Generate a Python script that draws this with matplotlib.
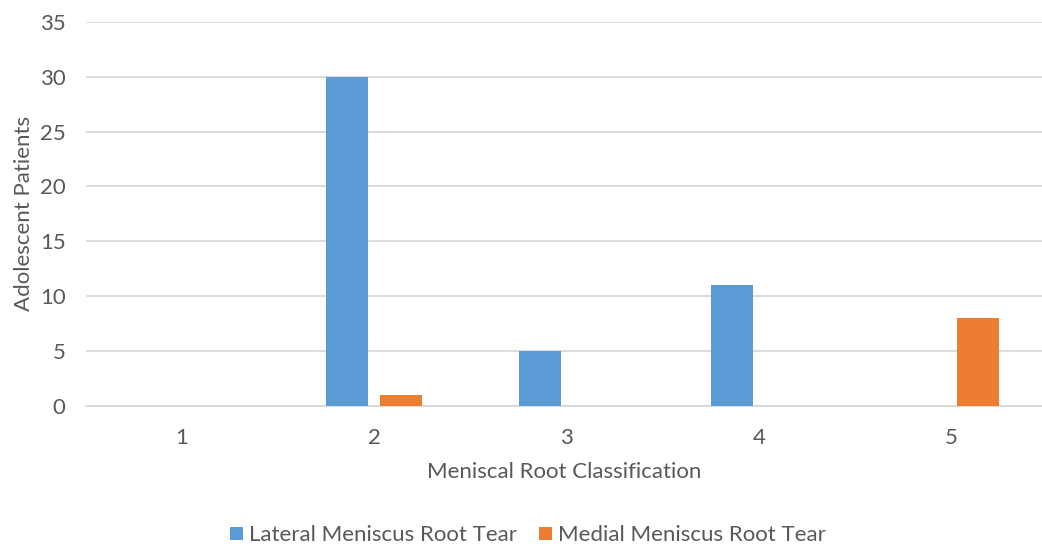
import matplotlib
matplotlib.use("Agg")
import matplotlib.pyplot as plt
import numpy as np

categories = ["1", "2", "3", "4", "5"]
lateral = [0, 30, 5, 11, 0]
medial = [0, 1, 0, 0, 8]
series_names = ["Lateral Meniscus Root Tear", "Medial Meniscus Root Tear"]
y_ticks = [0, 5, 10, 15, 20, 25, 30, 35]

BLUE = "#5B9BD5"
ORANGE = "#ED7D31"
GRID = "#D9D9D9"
TEXT = "#595959"
FS = 16

plt.rcParams["font.family"] = ["Lato", "DejaVu Sans"]

fig = plt.figure(figsize=(10.42, 5.46), dpi=100)
ax = fig.add_axes([0.0822, 0.257, 0.918, 0.703])

x = np.arange(1, len(categories) + 1)
width = 0.218
offset = 0.14
ax.bar(x - offset, lateral, width, color=BLUE, label=series_names[0], zorder=3)
ax.bar(x + offset, medial, width, color=ORANGE, label=series_names[1], zorder=3)

ax.set_xlim(0.5, 0.5 + (1042 - 85.6) / 192.3)
ax.set_ylim(0, 35)
ax.set_yticks(y_ticks)
ax.set_xticks(x)
ax.set_xticklabels(categories)

ax.grid(axis="y", color=GRID, linewidth=1.3, zorder=0)
for side in ["top", "right", "left"]:
    ax.spines[side].set_visible(False)
ax.spines["bottom"].set_color(GRID)
ax.spines["bottom"].set_linewidth(1.3)
ax.tick_params(axis="both", length=0, colors=TEXT, labelsize=FS)
ax.tick_params(axis="y", pad=14.5)
ax.tick_params(axis="x", pad=16)

ax.set_xlabel("Meniscal Root Classification", fontsize=FS, color=TEXT, labelpad=10)
ax.set_ylabel("Adolescent Patients", fontsize=FS, color=TEXT, labelpad=4)

fig.legend(loc="center", bbox_to_anchor=(0.507, 0.02), ncol=2, frameon=False,
           fontsize=FS, labelcolor=TEXT, handlelength=0.55, handleheight=0.55,
           handletextpad=0.3, columnspacing=1.0)

fig.savefig("out.png", dpi=100)
